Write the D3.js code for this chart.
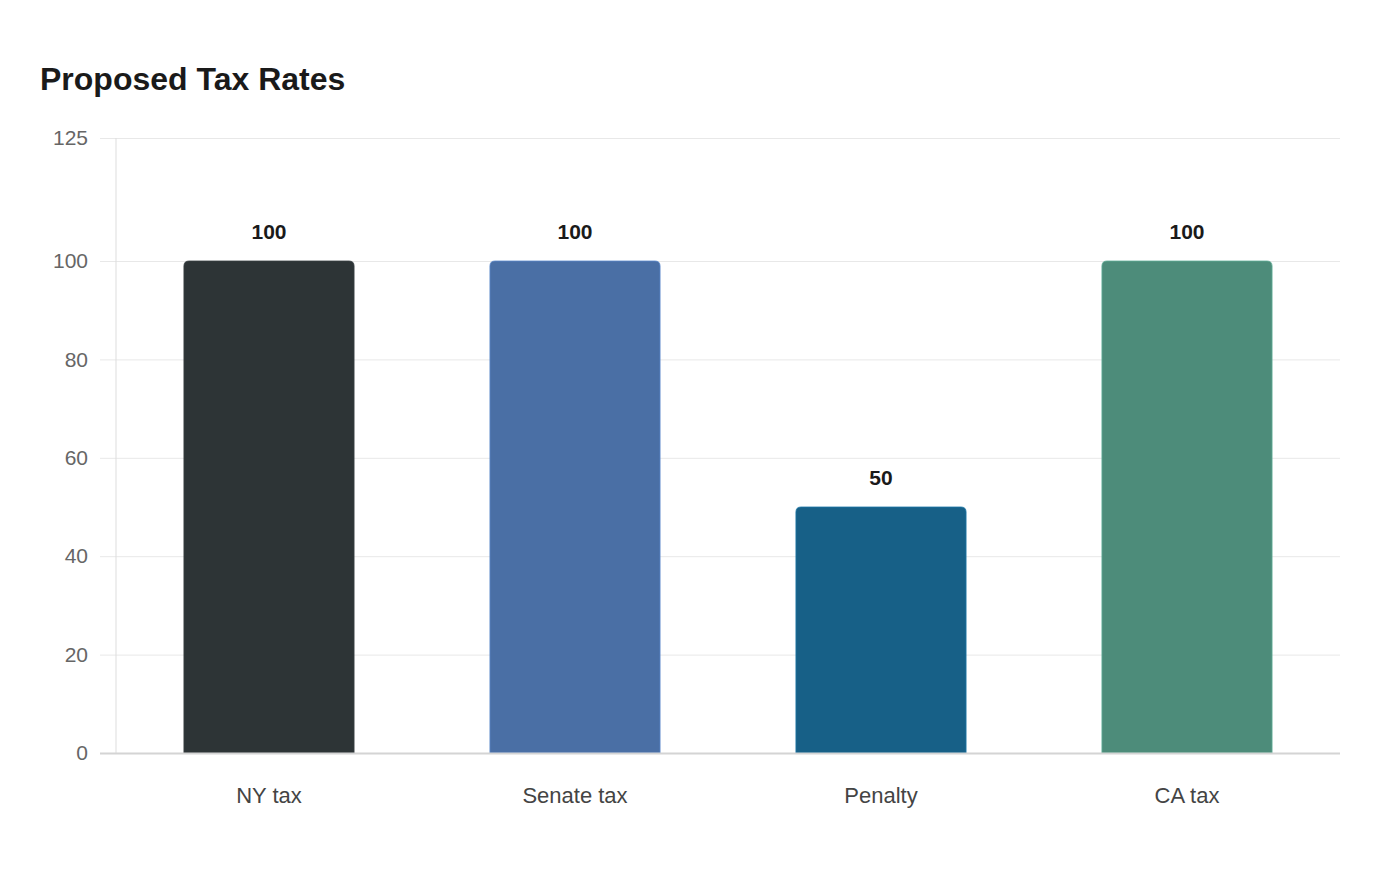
<!DOCTYPE html>
<html>
<head>
<meta charset="utf-8">
<script src="https://cdn.jsdelivr.net/npm/d3@7"></script>
<style>
  body { margin: 0; background: #fff; }
  text { font-family: "Liberation Sans", Arial, sans-serif; }
</style>
</head>
<body>
<div id="chart"></div>
<script>
var categories = ["NY tax", "Senate tax", "Penalty", "CA tax"];
var values = [100, 100, 50, 100];
var barColors = ["#2d3436", "#4a6fa5", "#176087", "#4d8c7a"];
var yTicks = [0, 20, 40, 60, 80, 100, 125];

var svgWidth = 1400;
var svgHeight = 880;

var margin = {
  top: 138,
  right: 60,
  bottom: 127,
  left: 116
};

var width = svgWidth - margin.left - margin.right;
var height = svgHeight - margin.top - margin.bottom;

var svg = d3.select("#chart")
  .append("svg")
  .attr("width", svgWidth)
  .attr("height", svgHeight);

svg.append("text")
  .attr("x", 40)
  .attr("y", 90)
  .attr("fill", "#1a1a1a")
  .style("font-size", "32px")
  .style("font-weight", "bold")
  .text("Proposed Tax Rates");

var g = svg.append("g")
  .attr("transform", `translate(${margin.left}, ${margin.top})`);

var xScale = d3.scaleBand()
  .domain(categories)
  .range([0, width])
  .paddingInner(0.444)
  .paddingOuter(0.222);

var yScale = d3.scaleLinear()
  .domain([0, 125])
  .range([height, 0]);

// grid lines
var yAxis = d3.axisLeft(yScale)
  .tickValues(yTicks)
  .tickSize(-(width + 16))
  .tickPadding(12);

var yAxisG = g.append("g")
  .attr("transform", "translate(-16,0)")
  .call(yAxis);

yAxisG.select(".domain").remove();
yAxisG.selectAll(".tick line")
  .attr("stroke", "#e8e8e8")
  .attr("stroke-width", 1);
yAxisG.selectAll(".tick text")
  .attr("fill", "#666")
  .attr("x", -12)
  .style("font-size", "21px");

// y axis line
g.append("line")
  .attr("x1", 0)
  .attr("x2", 0)
  .attr("y1", 0)
  .attr("y2", height)
  .attr("stroke", "#dddddd")
  .attr("stroke-width", 1);

// rounded-top bars
function barPath(x, y, w, h, r) {
  return `M${x},${y + h}V${y + r}Q${x},${y} ${x + r},${y}H${x + w - r}Q${x + w},${y} ${x + w},${y + r}V${y + h}Z`;
}

g.selectAll("path.bar")
  .data(values)
  .enter()
  .append("path")
  .attr("class", "bar")
  .attr("fill", (d, i) => barColors[i])
  .attr("stroke", (d, i) => d3.color(barColors[i]).brighter(0.6))
  .attr("stroke-width", 0.8)
  .attr("d", (d, i) => barPath(xScale(categories[i]), yScale(d), xScale.bandwidth(), yScale(0) - yScale(d), 5));

g.selectAll("text.value")
  .data(values)
  .enter()
  .append("text")
  .attr("class", "value")
  .attr("x", (d, i) => xScale(categories[i]) + xScale.bandwidth() / 2)
  .attr("y", d => yScale(d) - 22)
  .attr("text-anchor", "middle")
  .attr("fill", "#1a1a1a")
  .style("font-size", "21px")
  .style("font-weight", "bold")
  .text(d => d);

// x axis
var xAxis = d3.axisBottom(xScale)
  .tickSize(0)
  .tickPadding(34);

var xAxisG = g.append("g")
  .attr("transform", `translate(0,${height})`)
  .call(xAxis);

xAxisG.select(".domain").remove();
xAxisG.selectAll(".tick text")
  .attr("fill", "#444")
  .style("font-size", "22px");

g.append("line")
  .attr("x1", -16)
  .attr("x2", width)
  .attr("y1", height + 0.5)
  .attr("y2", height + 0.5)
  .attr("stroke", "#d4d4d4")
  .attr("stroke-width", 2);
</script>
</body>
</html>
